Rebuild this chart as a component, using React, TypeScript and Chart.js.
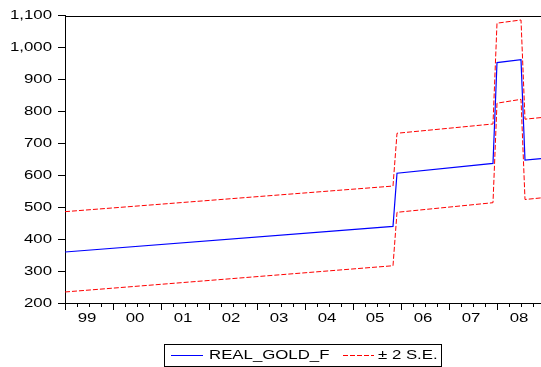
import React, { useEffect, useRef } from "react";
import { Chart, registerables } from "chart.js";

Chart.register(...registerables);

// Monthly observations, 1999M01 = index 0 ... 2008M12 = index 119 (vertices of the plotted lines)
const monthIndex = [0, 82, 83, 107, 108, 114, 115, 119];
const realGoldF = [361, 441, 607, 638, 953, 962, 648, 653];
const upperSE = [487, 567, 732, 761, 1076, 1086, 776, 781];
const lowerSE = [236, 318, 485, 515, 826, 838, 525, 530];

const yearLabels = ["99", "00", "01", "02", "03", "04", "05", "06", "07", "08"];
const legendLabels = ["REAL_GOLD_F", "± 2 S.E."];

const BLUE = "#0000FF";
const RED = "#FF0000";
const FONT = '"Liberation Sans", Arial, sans-serif';
const SX = 1.4;

const toPoints = (ys: number[]) => ys.map((y, i) => ({ x: monthIndex[i], y }));

const stretchPlugin = {
  id: "stretchText",
  beforeDraw(chart: any) {
    const ctx = chart.ctx as any;
    if (ctx.__stretched) return;
    const orig = ctx.fillText.bind(ctx);
    ctx.fillText = (text: string, x: number, y: number, maxWidth?: number) => {
      ctx.save();
      ctx.translate(x, y);
      ctx.scale(SX, 1);
      if (maxWidth !== undefined && maxWidth !== null) orig(text, 0, 0, maxWidth / SX);
      else orig(text, 0, 0);
      ctx.restore();
    };
    ctx.__stretched = true;
  },
};

const framePlugin = {
  id: "frameTicks",
  afterDraw(chart: any) {
    const ctx = chart.ctx;
    const area = chart.chartArea;
    const xs = chart.scales.x;
    ctx.save();
    ctx.strokeStyle = "#000";
    ctx.lineWidth = 1;
    // top frame
    ctx.beginPath();
    ctx.moveTo(area.left, Math.round(area.top) + 0.5);
    ctx.lineTo(area.right, Math.round(area.top) + 0.5);
    ctx.stroke();
    // x tick marks: quarterly minor, yearly major
    const yb = Math.round(area.bottom);
    for (let m = 0; m <= 120; m += 3) {
      const px = Math.round(xs.getPixelForValue(m)) + 0.5;
      if (px > chart.width) continue;
      const len = m % 12 === 0 ? 6 : 3;
      ctx.beginPath();
      ctx.moveTo(px, yb);
      ctx.lineTo(px, yb + len);
      ctx.stroke();
    }
    // legend
    const lx = 164.5, ly = 344.5, lw = 277, lh = 22;
    ctx.strokeRect(lx, ly, lw, lh);
    const cy = 355.5;
    ctx.strokeStyle = BLUE;
    ctx.beginPath();
    ctx.moveTo(171, cy);
    ctx.lineTo(203, cy);
    ctx.stroke();
    ctx.strokeStyle = RED;
    ctx.setLineDash([5, 2]);
    ctx.beginPath();
    ctx.moveTo(343, cy);
    ctx.lineTo(374, cy);
    ctx.stroke();
    ctx.setLineDash([]);
    ctx.fillStyle = "#000";
    ctx.font = `12px ${FONT}`;
    ctx.textAlign = "left";
    ctx.textBaseline = "middle";
    ctx.fillText(legendLabels[0], 209, cy);
    ctx.fillText(legendLabels[1], 378, cy);
    ctx.restore();
  },
};

export default function App() {
  const ref = useRef<HTMLCanvasElement | null>(null);
  useEffect(() => {
    document.body.style.margin = "0";
    if (!ref.current) return;
    const chart = new Chart(ref.current, {
      type: "line",
      data: {
        datasets: [
          {
            label: legendLabels[0],
            data: toPoints(realGoldF),
            borderColor: BLUE,
            borderWidth: 1.2,
            pointRadius: 0,
            tension: 0,
          },
          {
            label: legendLabels[1],
            data: toPoints(upperSE),
            borderColor: RED,
            borderWidth: 1,
            borderDash: [5, 2],
            pointRadius: 0,
            tension: 0,
          },
          {
            label: legendLabels[1] + " (lower)",
            data: toPoints(lowerSE),
            borderColor: RED,
            borderWidth: 1,
            borderDash: [5, 2],
            pointRadius: 0,
            tension: 0,
          },
        ],
      },
      options: {
        responsive: false,
        animation: false,
        layout: { padding: { top: 15.5, left: 0, right: 0, bottom: 0 } },
        plugins: { legend: { display: false }, tooltip: { enabled: false } },
        scales: {
          x: {
            type: "linear",
            min: 0,
            max: 119,
            afterFit: (s: any) => {
              s.height = 63.5;
            },
            afterBuildTicks: (s: any) => {
              s.ticks = yearLabels.map((_, k) => ({ value: 5.5 + 12 * k }));
            },
            ticks: {
              autoSkip: false,
              maxRotation: 0,
              padding: 2,
              color: "#000",
              font: { family: FONT, size: 12 },
              callback: (_v: any, i: number) => yearLabels[i],
            },
            grid: { drawOnChartArea: false, tickLength: 6, tickColor: "rgba(0,0,0,0)" },
            border: { color: "#000", width: 1 },
          },
          y: {
            min: 200,
            max: 1100,
            afterFit: (s: any) => {
              s.width = 65;
            },
            ticks: {
              stepSize: 100,
              padding: 6,
              color: "#000",
              font: { family: FONT, size: 12 },
              callback: (v: any) => Number(v).toLocaleString("en-US"),
            },
            grid: { drawOnChartArea: false, tickLength: 7, tickColor: "#000" },
            border: { color: "#000", width: 1 },
          },
        },
      },
      plugins: [stretchPlugin, framePlugin],
    });
    return () => chart.destroy();
  }, []);
  return <canvas ref={ref} width={541} height={367} style={{ display: "block" }} />;
}
